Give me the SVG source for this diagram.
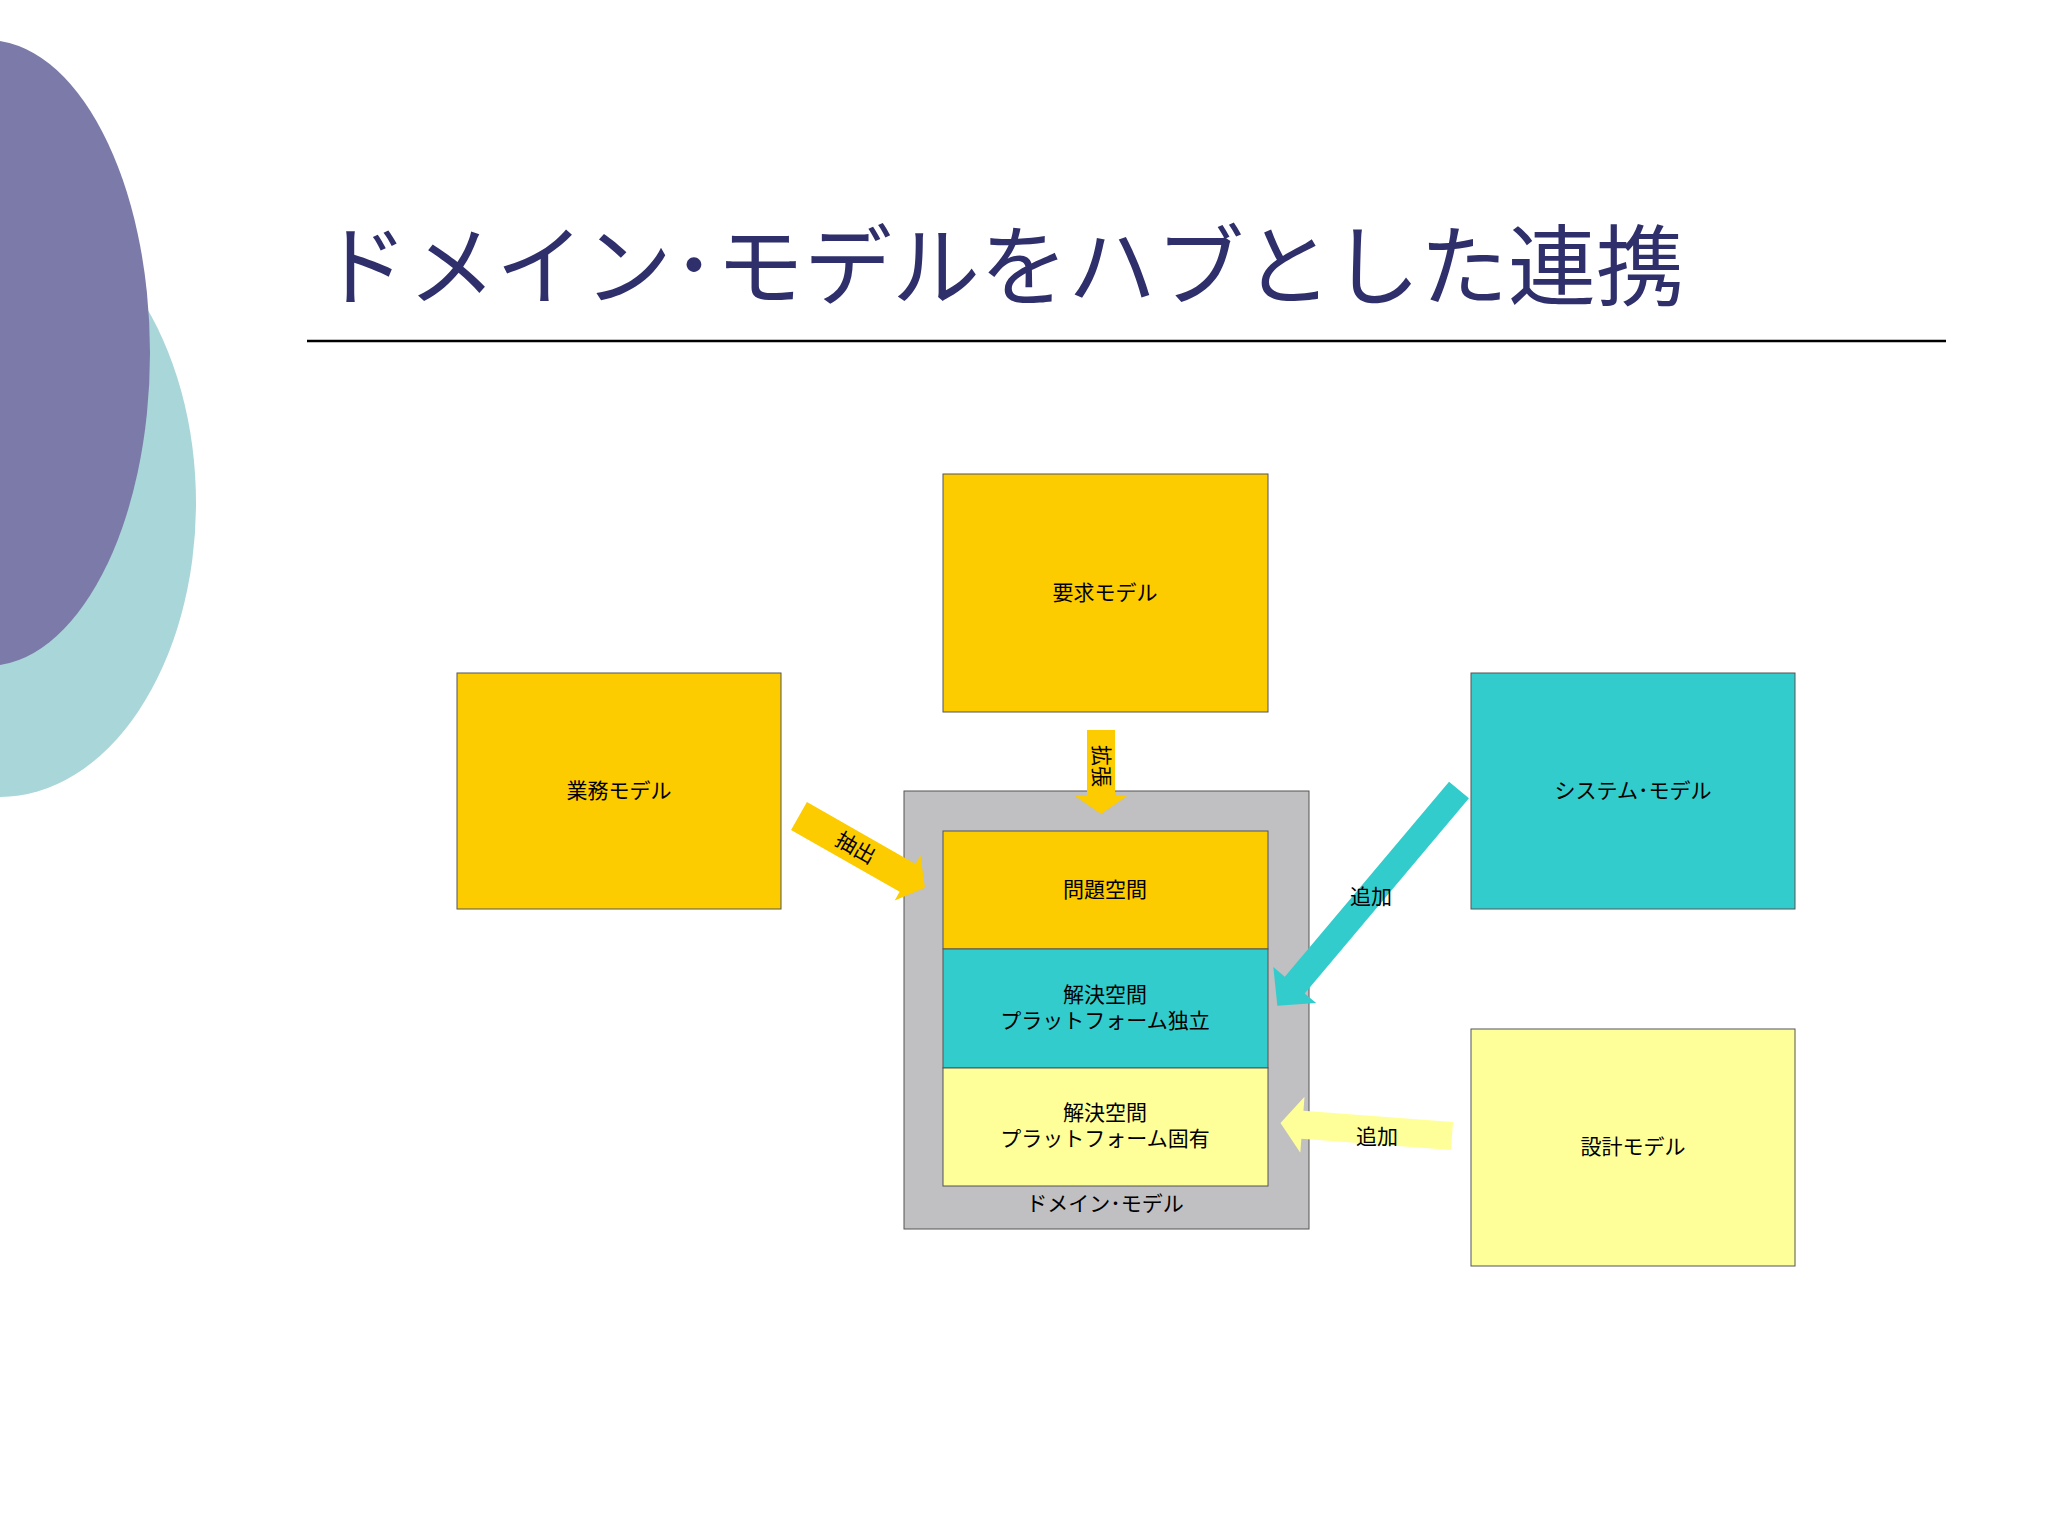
<svg xmlns="http://www.w3.org/2000/svg" width="2048" height="1536" viewBox="0 0 2048 1536">
<style>
.t{font-family:"Liberation Sans","Noto Sans CJK JP",sans-serif;font-size:21px;fill:#000;text-anchor:middle}
.b{stroke:#555;stroke-width:1}
</style>
<rect width="2048" height="1536" fill="#fff"/>
<ellipse cx="0" cy="503" rx="196" ry="294" fill="#a9d6d8"/>
<ellipse cx="-13" cy="353" rx="163" ry="313" fill="#7b7aa8"/>
<text x="320" y="298" style="font-family:'Liberation Sans','Noto Sans CJK JP',sans-serif;font-size:88px;fill:#2e2f6b">ドメイン･モデルをハブとした連携</text>
<line x1="307" y1="341" x2="1946" y2="341" stroke="#000" stroke-width="2.5"/>
<g id="domain"><rect class="b" x="904" y="791" width="405" height="438" fill="#c0bfc1"/><text class="t" x="1105" y="1211">ドメイン･モデル</text></g>
<g id="youkyu"><rect class="b" x="943" y="474" width="325" height="238" fill="#fccb00"/><text class="t" x="1105" y="600">要求モデル</text></g>
<g id="gyoumu"><rect class="b" x="457" y="673" width="324" height="236" fill="#fccb00"/><text class="t" x="619" y="798">業務モデル</text></g>
<g id="system"><rect class="b" x="1471" y="673" width="324" height="236" fill="#33cccc"/><text class="t" x="1633" y="798">システム･モデル</text></g>
<g id="sekkei"><rect class="b" x="1471" y="1029" width="324" height="237" fill="#ffff99"/><text class="t" x="1633" y="1154">設計モデル</text></g>
<g id="mondai"><rect class="b" x="943" y="831" width="325" height="118" fill="#fccb00"/><text class="t" x="1105" y="897">問題空間</text></g>
<g id="dokuritsu"><rect class="b" x="943" y="949" width="325" height="119" fill="#33cccc"/><text class="t" x="1105" y="1002">解決空間</text><text class="t" x="1105" y="1028">プラットフォーム独立</text></g>
<g id="koyuu"><rect class="b" x="943" y="1068" width="325" height="118" fill="#ffff99"/><text class="t" x="1105" y="1120">解決空間</text><text class="t" x="1105" y="1146">プラットフォーム固有</text></g>
<g id="connectors">
<g transform="translate(1101,730) rotate(90)"><path d="M0,-14 L66,-14 L66,-26 L84,0 L66,26 L66,14 L0,14Z" fill="#fccb00"/><text class="t" x="36" y="7">拡張</text></g>
<g transform="translate(799,816) rotate(29.7)"><path d="M0,-16 L125,-16 L125,-26 L145,0 L125,26 L125,16 L0,16Z" fill="#fccb00"/><text class="t" x="65" y="7">抽出</text></g>
<g transform="translate(1459,790) rotate(130.1)"><path d="M0,-13 L255,-13 L255,-28 L282,0 L255,28 L255,13 L0,13Z" fill="#33cccc"/></g>
<text class="t" x="1371" y="904">追加</text>
<g transform="translate(1452,1136) rotate(184.3)"><path d="M0,-14 L150,-14 L150,-28 L172,0 L150,28 L150,14 L0,14Z" fill="#ffff99"/></g>
<text class="t" x="1377" y="1144">追加</text>
</g>
</svg>
